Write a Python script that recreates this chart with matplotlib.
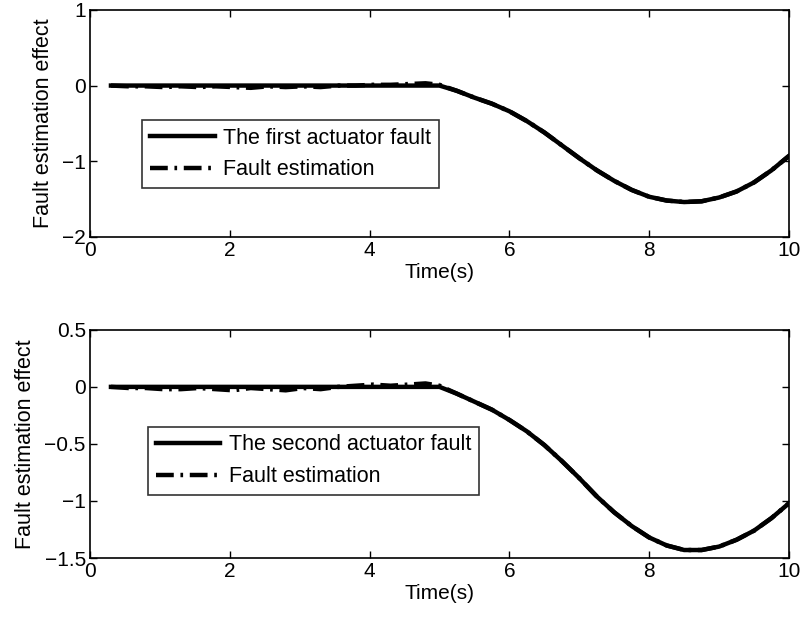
import matplotlib
matplotlib.use("Agg")
import matplotlib.pyplot as plt
import numpy as np

plt.rcParams['font.family'] = ['Liberation Sans', 'DejaVu Sans']

# time grid (s)
t_pre = [0.3, 0.55, 0.8, 1.05, 1.3, 1.55, 1.8, 2.05, 2.3, 2.55, 2.8, 3.05, 3.3,
         3.55, 3.8, 4.05, 4.3, 4.55, 4.8, 5.0]
t_post = [5.25, 5.5, 5.75, 6.0, 6.25, 6.5, 6.75, 7.0, 7.25, 7.5, 7.75, 8.0,
          8.25, 8.5, 8.75, 9.0, 9.25, 9.5, 9.75, 10.0]

# first actuator fault
fault1_pre = [0.0] * 20
fault1_post = [-0.07, -0.16, -0.24, -0.34, -0.47, -0.62, -0.79, -0.96, -1.12,
               -1.26, -1.38, -1.47, -1.52, -1.54, -1.53, -1.48, -1.40, -1.28,
               -1.12, -0.93]
est1_pre = [0.0, -0.01, -0.01, -0.02, -0.01, -0.02, -0.01, -0.02, -0.03, -0.01,
            -0.02, -0.01, -0.02, 0.0, 0.0, 0.01, 0.01, 0.02, 0.03, 0.01]

# second actuator fault
fault2_pre = [0.0] * 20
fault2_post = [-0.06, -0.13, -0.20, -0.29, -0.39, -0.51, -0.65, -0.80, -0.96,
               -1.10, -1.22, -1.32, -1.39, -1.43, -1.43, -1.40, -1.34, -1.26,
               -1.15, -1.02]
est2_pre = [0.0, -0.01, -0.01, -0.02, -0.02, -0.01, -0.02, -0.03, -0.01, -0.02,
            -0.03, -0.01, -0.02, 0.0, 0.01, 0.02, 0.01, 0.02, 0.03, 0.01]

xticks = [0, 2, 4, 6, 8, 10]
yticks1 = [-2, -1, 0, 1]
yticks2 = [-1.5, -1, -0.5, 0, 0.5]

t = np.array(t_pre + t_post)
f1 = np.array(fault1_pre + fault1_post)
e1 = np.array(est1_pre + fault1_post)
f2 = np.array(fault2_pre + fault2_post)
e2 = np.array(est2_pre + fault2_post)

fig = plt.figure(figsize=(8.02, 6.2), dpi=100)
ax1 = fig.add_axes([0.1122, 0.618, 0.8716, 0.366])
ax2 = fig.add_axes([0.1122, 0.100, 0.8716, 0.368])

fs = 15
def fmt(v):
    return ('%g' % v).replace('-', '\u2212')

for ax, f, e, lab, yt, ylim, anchor in [
        (ax1, f1, e1, 'The first actuator fault', yticks1, (-2, 1), (0.075, 0.515)),
        (ax2, f2, e2, 'The second actuator fault', yticks2, (-1.5, 0.5), (0.083, 0.575))]:
    ax.plot(t, f, color='black', lw=3.2, ls='-', label=lab)
    ax.plot(t, e, color='black', lw=3.2, ls=(0, (4, 1.5, 0.6, 1.5)), label='Fault estimation')
    ax.set_xlim(0, 10)
    ax.set_ylim(*ylim)
    ax.set_xticks(xticks)
    ax.set_xticklabels([str(v) for v in xticks])
    ax.set_yticks(yt)
    ax.set_yticklabels([fmt(v) for v in yt])
    ax.tick_params(direction='in', top=True, right=True, labelsize=fs, length=5, width=1, pad=3)
    for s in ax.spines.values():
        s.set_linewidth(1.2)
    ax.set_xlabel('Time(s)', fontsize=fs, labelpad=2)
    ax.set_ylabel('Fault estimation effect', fontsize=15.5, labelpad=6)
    leg = ax.legend(loc='upper left', bbox_to_anchor=anchor, fontsize=15.5,
                    frameon=True, fancybox=False, edgecolor='black',
                    handlelength=3.0, borderpad=0.35, labelspacing=0.5,
                    handletextpad=0.4, borderaxespad=0)
    leg.get_frame().set_linewidth(1.2)

fig.savefig('out.png', dpi=100)
